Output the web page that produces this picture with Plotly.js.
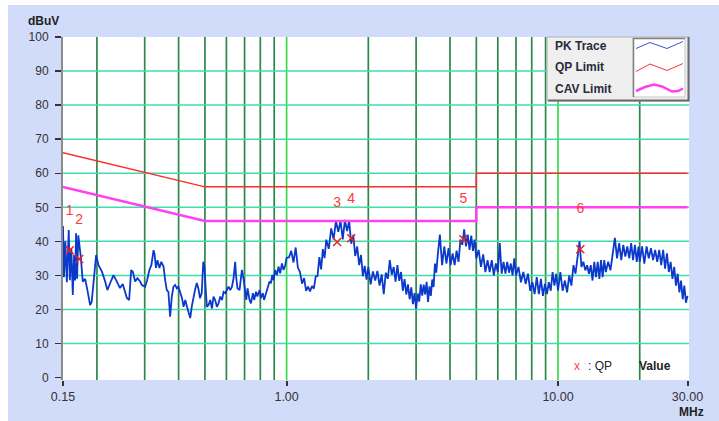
<!DOCTYPE html>
<html>
<head>
<meta charset="utf-8">
<script src="https://cdn.plot.ly/plotly-3.0.1.min.js"></script>
<style>html,body{margin:0;padding:0;background:#fff;}#chart{width:719px;height:421px;}</style>
</head>
<body>
<div id="chart"></div>
<script>
// ---------- DATA ----------
const pkFreqA = [0.1500,0.1512,0.1530,0.1550,0.1575,0.1590,0.1610,0.1630,0.1648,0.1662,0.1676,0.1690,0.1708,0.1744,0.1774,0.1810,0.1845,0.1888,0.1914,0.1940,0.1987,0.2027,0.2087,0.2145,0.2186,0.2237,0.2302,0.2369,0.2433,0.2490,0.2518,0.2579,0.2629,0.2675,0.2714,0.2766,0.2820,0.2886];
const pkLevelA = [44.5,29.5,40.0,28.0,43.3,28.6,38.0,24.3,36.0,28.5,42.4,29.0,41.8,35.5,28.2,29.0,25.7,21.3,22.3,26.7,36.0,33.0,31.1,28.2,25.7,27.7,30.1,28.2,26.3,27.5,26.3,23.4,22.8,31.6,31.0,28.2,29.2,28.2];
const pkFreqB = [0.2929,0.3010,0.3062,0.3121,0.3174,0.3234,0.3261,0.3300,0.3344,0.3400,0.3454,0.3520,0.3569,0.3618,0.3668,0.3722,0.3776,0.3829,0.3885,0.3941,0.3994,0.4054,0.4115,0.4173,0.4234,0.4295,0.4353,0.4414,0.4475,0.4528,0.4597,0.4665,0.4730,0.4798,0.4867,0.4931,0.4980,0.5041,0.5085,0.5157,0.5232,0.5308,0.5379,0.5455];
const pkLevelB = [27.2,26.7,28.6,31.6,33.0,37.4,36.4,32.2,34.5,32.2,34.0,32.6,28.6,25.7,25.2,17.9,23.8,26.7,27.2,26.2,26.7,25.2,23.4,20.8,22.8,20.8,19.0,17.5,21.0,23.3,25.7,27.8,26.2,23.3,24.8,34.0,32.5,25.2,20.8,21.3,22.8,20.3,23.8,22.8];
const pkFreqC = [0.5534,0.5613,0.5696,0.5779,0.5858,0.5941,0.6026,0.6110,0.6199,0.6289,0.6374,0.6463,0.6516,0.6591,0.6707,0.6845,0.6937,0.7037,0.7099,0.7179,0.7302,0.7389,0.7512,0.7593,0.7716,0.7797,0.7951,0.8040,0.8171,0.8257,0.8388,0.8500,0.8649,0.8753,0.8850,0.8948,0.9078,0.9210,0.9336,0.9469,0.9612,0.9745,0.9884];
const pkLevelC = [20.8,21.8,23.8,22.8,25.2,24.8,25.7,26.7,25.7,26.7,29.1,34.0,29.6,26.2,25.7,31.6,29.1,25.7,22.8,26.2,22.8,21.8,24.8,22.8,25.2,23.8,25.7,23.3,24.8,22.8,24.8,26.2,28.2,27.7,30.1,28.6,31.6,30.1,32.6,30.6,33.5,31.6,33.0];
const pkFreqD1 = [1.00,1.02,1.04,1.06,1.08,1.10,1.12,1.14,1.16,1.18,1.20,1.22,1.24,1.26,1.28,1.30,1.32,1.34,1.36,1.38,1.40,1.43,1.46,1.49,1.52,1.55,1.58,1.61,1.64,1.67,1.70,1.73,1.76,1.79,1.82,1.85,1.88,1.91,1.94,1.97,2.00];
const pkLevelD1 = [35.2,35.3,37.2,33.8,38.2,32.3,31.0,27.6,29.2,25.5,26.7,25.3,26.9,26.1,29.7,29.8,35.4,31.8,37.7,35.1,40.5,37.8,43.8,40.6,46.0,42.8,46.0,40.6,46.3,43.0,46.0,39.3,41.9,35.7,38.5,33.0,36.0,29.8,32.8,28.8,32.5];
const pkFreqD2 = [2.04,2.08,2.12,2.16,2.20,2.24,2.28,2.32,2.36,2.40,2.44,2.48,2.52,2.56,2.60,2.64,2.68,2.72,2.76,2.80,2.84,2.88,2.92,2.96,3.00,3.04,3.08,3.12,3.16,3.20,3.24,3.28,3.32,3.36,3.40,3.44,3.48,3.52,3.56,3.60];
const pkLevelD2 = [27.4,31.2,28.5,31.3,27.0,30.3,24.5,30.8,29.0,34.5,30.2,32.5,28.2,33.0,28.4,31.0,25.5,28.9,24.4,27.4,23.0,26.5,21.6,24.8,20.2,24.7,22.3,27.4,24.1,27.3,24.4,28.1,22.2,26.8,24.0,28.8,26.6,33.5,30.8,35.5];
const pkFreqD3 = [3.67,3.74,3.81,3.88,3.95,4.02,4.09,4.16,4.23,4.30,4.37,4.44,4.51,4.58,4.65,4.72,4.79,4.86,4.93,5.00,
                  5.1,5.2,5.3,5.4,5.5,5.6,5.7,5.8,5.9,6.0,6.1,6.2,6.3,6.4,6.5,6.6,6.7,6.8,6.9,7.0,
                  7.15,7.3,7.45,7.6,7.75,7.9,8.05,8.2,8.35,8.5,8.65,8.8,8.95,9.1,9.25,9.4,9.55,9.7,9.85,10.0];
const pkLevelD3 = [42.0,33.0,38.5,33.5,38.0,33.0,36.5,33.0,37.3,34.0,40.5,39.0,43.5,38.5,42.0,37.5,41.7,37.2,40.5,35.0,
                   37.5,32.5,36.2,31.0,34.5,31.0,34.5,30.0,33.5,31.0,39.5,30.5,34.0,30.5,34.0,30.8,33.5,30.0,35.0,30.0,
                   32.5,28.0,31.0,27.5,30.5,25.5,28.0,24.5,29.5,24.5,29.0,24.0,27.5,24.5,28.0,25.5,31.0,27.0,30.5,25.5];
const pkFreqD4 = [10.2,10.4,10.6,10.8,11.0,11.2,11.4,11.6,11.8,12.0,12.2,12.4,12.6,12.8,13.0,13.2,13.4,13.6,13.8,14.0,14.2,14.4,14.6,14.8,15.0,
                  15.3,15.6,15.9,16.2,16.5,16.8,17.1,17.4,17.7,18.0,18.3,18.6,18.9,19.2,19.5,19.8,
                  20.0,20.4,20.8,21.2,21.6,22.0,22.4,22.8,23.2,23.6,24.0,24.4,24.8,25.2,25.6,26.0,26.4,26.8,27.2,27.6,28.0,28.4,28.8,29.2,29.6,30.0];
const pkLevelD4 = [31.0,25.5,28.5,25.0,30.0,27.0,33.0,30.5,36.0,40.0,32.5,34.0,31.5,33.0,30.5,33.0,28.5,34.0,29.5,34.0,29.0,34.5,29.5,34.5,31.0,
                   34.0,31.5,37.0,41.0,35.0,39.5,34.5,39.0,35.5,38.5,35.0,39.5,34.5,39.0,34.0,38.5,
                   34.0,38.5,33.5,38.5,35.0,38.0,34.5,37.5,34.0,37.5,33.0,37.5,32.0,36.5,31.0,34.0,29.0,32.5,27.0,30.5,25.0,28.5,23.0,27.0,22.0,24.0];

const qpLimitFreq  = [0.15, 0.5, 5, 5, 30];
const qpLimitLevel = [66, 56, 56, 60, 60];
const cavLimitFreq  = [0.15, 0.5, 5, 5, 30];
const cavLimitLevel = [56, 46, 46, 50, 50];

const qpFreq  = [0.1588, 0.172, 1.535, 1.73, 4.48, 12.08];
const qpLevel = [37.4, 34.8, 39.8, 40.9, 40.6, 37.7];
const qpLabels = ['1','2','3','4','5','6'];
const qpLabelLevel = [48.8, 46.2, 51.2, 52.3, 52.3, 49.4];

const xTickVals = [0.15, 1, 10, 30];
const xTickText = ['0.15', '1.00', '10.00', '30.00'];
const yTickVals = [0,10,20,30,40,50,60,70,80,90,100];
const darkGridFreqs = [0.2,0.3,0.4,0.5,0.6,0.7,0.8,0.9,2,3,4,5,6,7,8,9,20];
const brightGridFreqs = [1, 10];
const hGridLevels = [10,20,30,40,50,60,70,80,90];
const legendNames = ['PK Trace', 'QP Limit', 'CAV Limit'];

// ---------- BUILD ----------
const pkFreq = [].concat(pkFreqA, pkFreqB, pkFreqC, pkFreqD1, pkFreqD2, pkFreqD3, pkFreqD4);
const pkLevel = [].concat(pkLevelA, pkLevelB, pkLevelC, pkLevelD1, pkLevelD2, pkLevelD3, pkLevelD4);

const FONT = 'Liberation Sans, Arial, sans-serif';
const W = 719, H = 421, ML = 63, MR = 30, MT = 37, MB = 41;
const PW = W - ML - MR, PH = H - MT - MB;
const px = p => (p - ML) / PW;          // pixel x -> paper
const py = p => (H - MB - p) / PH;      // pixel y -> paper

const BLUE = '#0b39cc', RED = '#ff2a2a', MAG = '#ff40ee';

const traces = [
  {x: pkFreq, y: pkLevel, mode: 'lines', line: {color: BLUE, width: 1.8}, hoverinfo: 'skip'},
  {x: qpLimitFreq, y: qpLimitLevel, mode: 'lines', line: {color: RED, width: 1.5}},
  {x: cavLimitFreq, y: cavLimitLevel, mode: 'lines', line: {color: MAG, width: 2.5}},
  {x: qpFreq, y: qpLevel, mode: 'markers', marker: {symbol: 'x-thin-open', size: 8, line: {color: '#ee2020', width: 1.5}, color: '#ee2020'}},
  {x: qpFreq, y: qpLabelLevel, mode: 'text', text: qpLabels, textposition: 'middle center',
   textfont: {family: FONT, size: 14, color: '#ff3a3a'}}
];

const shapes = [];
darkGridFreqs.forEach(f => shapes.push({type: 'line', xref: 'x', yref: 'paper', x0: f, x1: f, y0: 0, y1: 1,
  line: {color: '#2c874a', width: 1.7}, layer: 'below'}));
brightGridFreqs.forEach(f => shapes.push({type: 'line', xref: 'x', yref: 'paper', x0: f, x1: f, y0: 0, y1: 1,
  line: {color: '#3ad84a', width: 1.7}, layer: 'below'}));
hGridLevels.forEach(v => shapes.push({type: 'line', xref: 'paper', yref: 'y', x0: 0, x1: 1, y0: v, y1: v,
  line: {color: '#40dcb0', width: 1.5}, layer: 'below'}));

// white outer strips (top / left)
shapes.push({type: 'rect', xref: 'paper', yref: 'paper', x0: px(0), x1: px(8), y0: py(H), y1: py(0),
  fillcolor: '#ffffff', line: {width: 0}, layer: 'below'});
shapes.push({type: 'rect', xref: 'paper', yref: 'paper', x0: px(0), x1: px(W), y0: py(5), y1: py(0),
  fillcolor: '#ffffff', line: {width: 0}, layer: 'below'});

// legend box
shapes.push({type: 'rect', xref: 'paper', yref: 'paper', x0: px(547), x1: px(689), y0: py(101), y1: py(37),
  fillcolor: '#efefef', line: {color: '#b0b0b0', width: 1}, layer: 'above'});
shapes.push({type: 'path', xref: 'paper', yref: 'paper',
  path: `M ${px(548)} ${py(100.5)} L ${px(688.5)} ${py(100.5)} L ${px(688.5)} ${py(37)}`,
  line: {color: '#6a6a6a', width: 2}, layer: 'above'});
shapes.push({type: 'rect', xref: 'paper', yref: 'paper', x0: px(633), x1: px(685), y0: py(97), y1: py(38),
  fillcolor: '#ffffff', line: {color: '#c8c8c8', width: 1}, layer: 'above'});
shapes.push({type: 'path', xref: 'paper', yref: 'paper',
  path: `M ${px(633.5)} ${py(97)} L ${px(633.5)} ${py(38.5)} L ${px(685)} ${py(38.5)}`,
  line: {color: '#808080', width: 1.5}, layer: 'above'});
// legend samples
const zig = (pts) => 'M ' + pts.map(p => `${px(p[0])} ${py(p[1])}`).join(' L ');
shapes.push({type: 'path', xref: 'paper', yref: 'paper', layer: 'above',
  path: zig([[636,48.5],[650,42.5],[667,48.5],[683,41.5]]), line: {color: '#3050e0', width: 1}});
shapes.push({type: 'path', xref: 'paper', yref: 'paper', layer: 'above',
  path: zig([[636,71.5],[650,64],[667,70.5],[683,63.5]]), line: {color: '#ff3030', width: 1}});
shapes.push({type: 'path', xref: 'paper', yref: 'paper', layer: 'above',
  path: zig([[636,91],[645,87],[654,84.5],[662,86.5],[672,91.5],[678,91],[683,88.5]]), line: {color: MAG, width: 2.5}});

const annotations = [
  {text: '<b>dBuV</b>', xref: 'paper', yref: 'paper', x: px(43), y: py(21), showarrow: false,
   font: {family: FONT, size: 12, color: '#222'}, xanchor: 'center', yanchor: 'middle'},
  {text: '<b>MHz</b>', xref: 'paper', yref: 'paper', x: px(692), y: py(412), showarrow: false,
   font: {family: FONT, size: 12, color: '#222'}, xanchor: 'center', yanchor: 'middle'},
  {text: 'x', xref: 'paper', yref: 'paper', x: px(577), y: py(366), showarrow: false,
   font: {family: FONT, size: 12, color: '#ff4040'}, xanchor: 'center', yanchor: 'middle'},
  {text: ': QP', xref: 'paper', yref: 'paper', x: px(586), y: py(366), showarrow: false,
   font: {family: FONT, size: 12, color: '#222'}, xanchor: 'left', yanchor: 'middle'},
  {text: '<b>Value</b>', xref: 'paper', yref: 'paper', x: px(637), y: py(366), showarrow: false,
   font: {family: FONT, size: 12, color: '#222'}, xanchor: 'left', yanchor: 'middle'}
];
const legendY = [46, 67, 89];
legendNames.forEach((n, i) => annotations.push({text: '<b>' + n + '</b>', xref: 'paper', yref: 'paper',
  x: px(553), y: py(legendY[i]), showarrow: false, xanchor: 'left', yanchor: 'middle',
  font: {family: FONT, size: 12, color: '#2a2a3a'}}));

const layout = {
  width: W, height: H,
  margin: {l: ML, r: MR, t: MT, b: MB, pad: 0},
  paper_bgcolor: '#d0dcf9', plot_bgcolor: '#ffffff',
  showlegend: false,
  font: {family: FONT, size: 12, color: '#333'},
  xaxis: {type: 'log', range: [Math.log10(0.15), 1.4826], tickmode: 'array', tickvals: xTickVals, ticktext: xTickText,
    ticks: 'outside', ticklen: 5, tickwidth: 2, tickcolor: '#333', showgrid: false, zeroline: false, showline: false,
    tickfont: {family: FONT, size: 12.5, color: '#333'}, fixedrange: true},
  yaxis: {range: [-0.7, 100], tickmode: 'array', tickvals: yTickVals, ticks: 'outside', ticklen: 6, tickwidth: 1.5,
    tickcolor: '#333', showgrid: false, zeroline: false, showline: true, linecolor: '#8a8a8a', linewidth: 2,
    ticklabelstandoff: 4, tickfont: {family: FONT, size: 12, color: '#333'}, fixedrange: true},
  shapes: shapes,
  annotations: annotations
};

Plotly.newPlot('chart', traces, layout, {displayModeBar: false, staticPlot: true});
</script>
</body>
</html>
